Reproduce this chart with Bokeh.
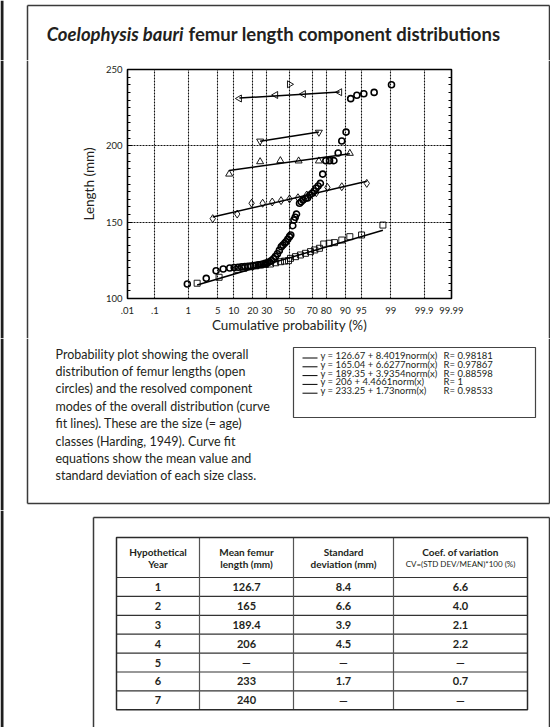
import math
from statistics import NormalDist
from bokeh.plotting import figure
from bokeh.layouts import column, row
from bokeh.models import (Range1d, FixedTicker, SingleIntervalTicker, LinearAxis,
                          CustomJSTickFormatter)
from bokeh.core.properties import value
from bokeh.embed import file_html
from bokeh.resources import INLINE

# ---------------- data ----------------
prob_ticks = [0.01, 0.1, 1, 5, 10, 20, 30, 50, 70, 80, 90, 95, 99, 99.9, 99.99]
prob_tick_labels = [".01", ".1", "1", "5", "10", "20", "30", "50", "70", "80",
                    "90", "95", "99", "99.9", "99.99"]

# overall distribution (open circles): cumulative probability (%) and length (mm)
all_pct = [0.95, 2.8, 4.6, 6.4, 8.5, 10.2, 11.9, 13.6, 15.3, 17.0, 18.7, 20.4, 22.1,
           23.8, 25.5, 27.2, 28.9, 30.6, 32.3, 34.0, 35.7, 37.4, 39.1, 40.8, 42.5,
           44.0, 45.6, 46.8, 48.4, 50.0, 51.2, 53.0, 54.0, 55.2, 56.4, 59.1, 60.6,
           62.3, 64.5, 66.0, 68.0, 69.9, 71.5, 72.9, 74.5, 76.1, 77.7, 79.8, 82.1,
           84.6, 86.8, 88.5, 90.3, 92.0, 93.9, 95.6, 97.4, 99.04]
all_len = [109.5, 113.2, 118.2, 119.3, 120.0, 120.3, 120.5, 120.7, 120.9, 121.1,
           121.3, 121.5, 121.8, 122.0, 122.3, 122.6, 123.0, 123.4, 124.0, 124.8,
           126.0, 127.5, 129.3, 131.5, 133.9, 135.0, 136.2, 137.2, 138.8, 140.5,
           141.6, 147.7, 151.4, 153.2, 155.3, 162.4, 163.4, 164.5, 165.6, 165.8,
           167.8, 168.9, 170.4, 172.2, 173.7, 175.4, 181.5, 190.3, 190.3, 190.3,
           195.3, 203.2, 209.0, 230.9, 233.1, 234.1, 235.0, 240.0]

# component 1 (squares)
c1_pct = [1.7, 5.3, 11.5, 14.7, 18.6, 21.9, 25.3, 29.0, 33.1, 37.5, 41.8, 45.5, 49.1,
          50.9, 55.5, 59.9, 64.3, 68.5, 71.9, 75.4, 78.4, 81.9, 84.9, 88.5, 91.7,
          95.1, 98.4]
c1_len = [110.0, 113.9, 119.1, 119.8, 120.8, 121.4, 121.9, 122.3, 122.6, 123.4,
          124.1, 124.5, 124.8, 126.3, 127.4, 128.5, 129.6, 130.7, 131.8, 132.9,
          135.7, 136.2, 136.6, 138.3, 140.5, 141.6, 148.1]
# component 2 (diamonds)
c2_pct = [3.9, 11.5, 19.2, 26.9, 34.6, 42.3, 50.0, 57.7, 65.4, 73.1, 80.8, 88.5, 96.2]
c2_len = [152.3, 155.3, 162.4, 162.4, 163.2, 164.1, 165.2, 166.0, 167.8, 169.3,
          172.8, 173.2, 175.4]
# component 3 (up triangles)
c3_pct = [8.3, 25.0, 41.7, 58.3, 75.0, 91.7]
c3_len = [181.5, 189.6, 190.3, 190.1, 190.1, 195.1]
# component 4 (down triangles)
c4_pct = [25.0, 75.0]
c4_len = [203.1, 208.9]
# component 5 (left triangles)
c5_pct = [12.5, 37.5, 62.5, 87.5]
c5_len = [231.0, 233.3, 233.9, 235.1]
# component 6 (single specimen, right triangle)
c6_pct = [50.0]
c6_len = [240.3]

fit_mean = [126.67, 165.04, 189.35, 206.0, 233.25]
fit_sd = [8.4019, 6.6277, 3.9354, 4.4661, 1.73]
fit_eq = ["y = 126.67 + 8.4019norm(x)", "y = 165.04 + 6.6277norm(x)",
          "y = 189.35 + 3.9354norm(x)", "y = 206 + 4.4661norm(x)",
          "y = 233.25 + 1.73norm(x)"]
fit_r = ["R= 0.98181", "R= 0.97867", "R= 0.88598", "R= 1", "R= 0.98533"]

title_italic = "Coelophysis bauri"
title_rest = "femur length component distributions"

caption = ["Probability plot showing the overall",
           "distribution of femur lengths (open",
           "circles) and the resolved component",
           "modes of the overall distribution (curve",
           "fit lines). These are the size (= age)",
           "classes (Harding, 1949). Curve fit",
           "equations show the mean value and",
           "standard deviation of each size class."]

table_head = [("Hypothetical", "Year"), ("Mean femur", "length (mm)"),
              ("Standard", "deviation (mm)"),
              ("Coef. of variation", "CV=(STD DEV/MEAN)*100 (%)")]
years = ["1", "2", "3", "4", "5", "6", "7"]
mean_len = ["126.7", "165", "189.4", "206", "\u2014", "233", "240"]
std_dev = ["8.4", "6.6", "3.9", "4.5", "\u2014", "1.7", "\u2014"]
coef_var = ["6.6", "4.0", "2.1", "2.2", "\u2014", "0.7", "\u2014"]

# ---------------- helpers ----------------
nd = NormalDist()
def zq(p):
    return nd.inv_cdf(p / 100.0)

TXT = "#231f20"
FONT = "Lato"
BOX = "#3a3a3a"

def canvas(x0, x1, y0, y1):
    """A blank figure whose frame covers the page region x0..x1, y0..y1."""
    f = figure(width=x1 - x0, height=y1 - y0, x_range=Range1d(x0, x1),
               y_range=Range1d(y1, y0), min_border=0, output_backend="svg",
               toolbar_location=None, x_axis_type=None, y_axis_type=None)
    f.outline_line_color = None
    f.background_fill_color = "white"
    f.border_fill_color = "white"
    f.frame_align = False
    return f

def txt(f, x, y, s, size, style="normal", align="left", baseline="middle"):
    f.text(x=[x], y=[y], text=[s], text_font=value(FONT), text_font_size=f"{size}px",
           text_font_style=style, text_align=align, text_baseline=baseline,
           text_color=TXT)

def left_bar(f, y0, y1):
    f.quad(left=[0], right=[3], top=[y0], bottom=[y1], fill_color="#1e1e1e",
           line_color=None)

# ---------------- title strip ----------------
ft = canvas(0, 550, 0, 60)
left_bar(ft, 0, 60)
ft.segment(x0=[27, 27, 549], y0=[60, 5, 5], x1=[27, 549, 549], y1=[5, 5, 60],
           line_color=BOX, line_width=1.5)
txt(ft, 183, 33.5, title_italic, 18.5, "bold italic", "right", "alphabetic")
txt(ft, 188, 33.5, title_rest, 18.5, "bold", "left", "alphabetic")

# ---------------- chart ----------------
p = figure(width=403, height=278, x_range=Range1d(zq(0.01), zq(99.99)),
           y_range=Range1d(100, 250), min_border_left=59, min_border_right=20,
           min_border_top=9, min_border_bottom=40, output_backend="svg",
           toolbar_location=None)
p.frame_align = False
p.background_fill_color = "white"
p.border_fill_color = "white"
p.outline_line_color = "black"
p.outline_line_width = 1.6

xt = [zq(v) for v in prob_ticks]
p.xaxis.ticker = FixedTicker(ticks=xt)
p.xaxis.formatter = CustomJSTickFormatter(args=dict(t=xt, lab=prob_tick_labels), code="""
let b = 0, d = 1e9;
for (let i = 0; i < t.length; i++) { const e = Math.abs(t[i] - tick); if (e < d) { d = e; b = i } }
return lab[b];
""")
p.xaxis.major_tick_in = 0
p.xaxis.major_tick_out = 0
p.xaxis.axis_line_color = None
p.xaxis.major_label_standoff = 8
p.xaxis.axis_label = "Cumulative probability (%)"
p.xaxis.axis_label_standoff = 0

p.yaxis.ticker = SingleIntervalTicker(interval=50, num_minor_ticks=10)
p.yaxis.major_tick_in = 5
p.yaxis.major_tick_out = 0
p.yaxis.minor_tick_in = 3
p.yaxis.minor_tick_out = 0
p.yaxis.axis_line_color = None
p.yaxis.major_label_standoff = 5
p.yaxis.axis_label = "Length (mm)"
p.yaxis.axis_label_standoff = 6

yr = LinearAxis(ticker=SingleIntervalTicker(interval=50, num_minor_ticks=10),
                major_tick_in=5, major_tick_out=0, minor_tick_in=3, minor_tick_out=0,
                axis_line_color=None, major_label_standoff=0,
                formatter=CustomJSTickFormatter(code="return ''"))
p.add_layout(yr, "right")

for ax in [p.xaxis[0], p.yaxis[0]]:
    ax.major_label_text_font = FONT
    ax.major_label_text_font_size = "9.5px"
    ax.major_label_text_color = TXT
    ax.axis_label_text_font = FONT
    ax.axis_label_text_font_size = "13.5px"
    ax.axis_label_text_font_style = "normal"
    ax.axis_label_text_color = TXT
    ax.major_tick_line_color = "black"
    ax.minor_tick_line_color = "black"
p.xaxis.minor_tick_line_color = None

p.xgrid.ticker = FixedTicker(ticks=xt[1:-1])
p.ygrid.ticker = FixedTicker(ticks=[150, 200])
for g in [p.xgrid[0], p.ygrid[0]]:
    g.grid_line_color = "#111111"
    g.grid_line_dash = "2 1"
    g.grid_line_width = 1.1

# fit lines
comp_pct = [c1_pct, c2_pct, c3_pct, c4_pct, c5_pct]
for m, s, pc in zip(fit_mean, fit_sd, comp_pct):
    z0, z1 = zq(min(pc)), zq(max(pc))
    p.line([z0, z1], [m + s * z0, m + s * z1], line_color="black", line_width=1.5)

def pts(pc):
    return [zq(v) for v in pc]

p.scatter(pts(c1_pct), c1_len, marker="square", size=6, fill_color=None,
          line_color="black", line_width=0.9)
p.scatter(pts(c2_pct), c2_len, marker="diamond", size=8, fill_color=None,
          line_color="black", line_width=0.9)
p.scatter(pts(c3_pct), c3_len, marker="triangle", size=7, fill_color=None,
          line_color="black", line_width=0.9)
p.scatter(pts(c4_pct), c4_len, marker="inverted_triangle", size=7, fill_color=None,
          line_color="black", line_width=0.9)
p.scatter(pts(c5_pct), c5_len, marker="triangle", angle=math.pi / 2, size=7,
          fill_color=None, line_color="black", line_width=0.9)
p.scatter(pts(c6_pct), c6_len, marker="triangle", angle=-math.pi / 2, size=7,
          fill_color=None, line_color="black", line_width=0.9)
p.scatter(pts(all_pct), all_len, marker="circle", size=6, fill_color=None,
          line_color="black", line_width=1.6)

# side strips carrying the box edges next to the chart
fl = canvas(0, 68, 60, 338)
left_bar(fl, 60, 338)
fl.segment(x0=[27], y0=[60], x1=[27], y1=[338], line_color=BOX, line_width=1.5)
fr = canvas(471, 550, 60, 338)
fr.segment(x0=[549], y0=[60], x1=[549], y1=[338], line_color=BOX, line_width=1.5)

# ---------------- caption + legend ----------------
fb = canvas(0, 550, 338, 510)
left_bar(fb, 338, 510)
fb.segment(x0=[27, 27, 549], y0=[338, 503, 503], x1=[27, 549, 549], y1=[503, 503, 338],
           line_color=BOX, line_width=1.5)
for i, line in enumerate(caption):
    txt(fb, 55, 353.5 + 17.4 * i, line, 12.5)

fb.quad(left=[293], right=[535], top=[347], bottom=[417], fill_color=None,
        line_color="#444444", line_width=1.2)
ly = [355 + 8.8 * i for i in range(len(fit_eq))]
fb.segment(x0=[302] * len(ly), x1=[317] * len(ly), y0=[v + 2.5 for v in ly],
           y1=[v + 2.5 for v in ly], line_color="black", line_width=1)
fb.text(x=[320] * len(ly), y=ly, text=fit_eq, text_font=value(FONT),
        text_font_size="9.5px", text_baseline="middle", text_color=TXT)
fb.text(x=[443] * len(ly), y=ly, text=fit_r, text_font=value(FONT),
        text_font_size="9.5px", text_baseline="middle", text_color=TXT)

# ---------------- table ----------------
t = canvas(0, 550, 510, 727)
left_bar(t, 510, 727)
t.segment(x0=[93, 93, 549], y0=[727, 517, 517], x1=[93, 549, 549], y1=[517, 517, 727],
          line_color=BOX, line_width=1.5)

col_edges = [116, 199, 293, 393, 527]
head_top, head_bot, row_h = 537, 577, 18.9
nrows = len(years)
tab_bot = head_bot + row_h * nrows
hy = [head_bot + row_h * k for k in range(nrows)]
t.segment(x0=[col_edges[0]] * nrows, x1=[col_edges[-1]] * nrows, y0=hy, y1=hy,
          line_color="#333333", line_width=1.2)
t.segment(x0=col_edges[1:-1], x1=col_edges[1:-1], y0=[head_top] * 3, y1=[tab_bot] * 3,
          line_color="#555555", line_width=1.2)
t.quad(left=[col_edges[0]], right=[col_edges[-1]], top=[head_top], bottom=[tab_bot],
       fill_color=None, line_color="#2a2a2a", line_width=1.5)

cx = [(col_edges[i] + col_edges[i + 1]) / 2 for i in range(4)]
for i, (h1, h2) in enumerate(table_head):
    txt(t, cx[i], 551, h1, 10, "bold", "center")
    if i == 3:
        txt(t, cx[i], 563, h2, 8, "normal", "center")
    else:
        txt(t, cx[i], 563, h2, 10, "bold", "center")

cols = [years, mean_len, std_dev, coef_var]
for ci, colvals in enumerate(cols):
    ys = [head_bot + row_h * (k + 0.5) for k in range(nrows)]
    t.text(x=[cx[ci]] * nrows, y=ys, text=colvals, text_font=value(FONT),
           text_font_style="bold", text_font_size="11px", text_align="center",
           text_baseline="middle", text_color=TXT)

layout = column(ft, row(fl, p, fr, spacing=0), fb, t, spacing=0)
open("out.html", "w").write(file_html(layout, INLINE))
